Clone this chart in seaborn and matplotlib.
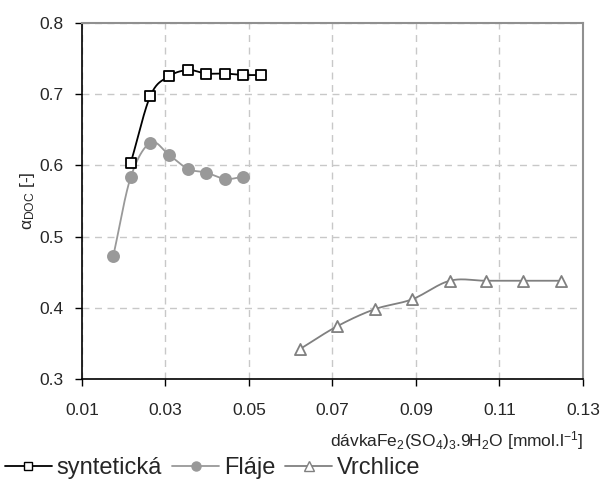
import numpy as np
import pandas as pd
import matplotlib
matplotlib.use("Agg")
import matplotlib.pyplot as plt
from matplotlib.lines import Line2D
import seaborn as sns

# Dose of Fe2(SO4)3.9H2O [mmol/l] and DOC removal efficiency for each water
dose_synt = [0.0217, 0.0264, 0.0308, 0.0354, 0.0397, 0.0443, 0.0486, 0.0529]
alpha_synt = [0.604, 0.698, 0.725, 0.734, 0.729, 0.729, 0.727, 0.727]

dose_flaje = [0.0175, 0.0217, 0.0264, 0.0308, 0.0354, 0.0397, 0.0443, 0.0486]
alpha_flaje = [0.473, 0.584, 0.632, 0.615, 0.595, 0.590, 0.581, 0.584]

dose_vrch = [0.0622, 0.0711, 0.0801, 0.0891, 0.0981, 0.1067, 0.1157, 0.1247]
alpha_vrch = [0.342, 0.374, 0.398, 0.412, 0.438, 0.438, 0.438, 0.438]

series_names = ["syntetická", "Fláje", "Vrchlice"]
x_ticks = [0.01, 0.03, 0.05, 0.07, 0.09, 0.11, 0.13]
y_ticks = [0.3, 0.4, 0.5, 0.6, 0.7, 0.8]

sns.set_theme(style="white")
plt.rcParams["font.family"] = ["Liberation Sans", "DejaVu Sans"]
plt.rcParams["mathtext.fontset"] = "custom"
plt.rcParams["mathtext.rm"] = "Liberation Sans"
plt.rcParams["mathtext.it"] = "Liberation Sans"

fig = plt.figure(figsize=(6.04, 4.84), dpi=100)
ax = fig.add_axes([82 / 604, 1 - 379 / 484, (583 - 82) / 604, (379 - 23) / 484])


def smooth(x, y, n=24):
    """Catmull-Rom curve through the points, like a smoothed line in a spreadsheet."""
    x = np.asarray(x, float)
    y = np.asarray(y, float)
    px = np.concatenate([[2 * x[0] - x[1]], x, [2 * x[-1] - x[-2]]])
    py = np.concatenate([[2 * y[0] - y[1]], y, [2 * y[-1] - y[-2]]])
    xs, ys = [], []
    t = np.linspace(0, 1, n)
    for i in range(1, len(px) - 2):
        for arr, out in ((px, xs), (py, ys)):
            p0, p1, p2, p3 = arr[i - 1], arr[i], arr[i + 1], arr[i + 2]
            out.extend(0.5 * ((2 * p1) + (-p0 + p2) * t
                              + (2 * p0 - 5 * p1 + 4 * p2 - p3) * t ** 2
                              + (-p0 + 3 * p1 - 3 * p2 + p3) * t ** 3))
    return np.array(xs), np.array(ys)


styles = {
    "syntetická": dict(color="#000000", marker="s", face="white", size=7, leg=6),
    "Fláje": dict(color="#999999", marker="o", face="#999999", size=8, leg=6.5),
    "Vrchlice": dict(color="#808080", marker="^", face="white", size=8, leg=6.5),
}

frames = [
    pd.DataFrame({"dose": dose_synt, "alpha": alpha_synt, "series": "syntetická"}),
    pd.DataFrame({"dose": dose_flaje, "alpha": alpha_flaje, "series": "Fláje"}),
    pd.DataFrame({"dose": dose_vrch, "alpha": alpha_vrch, "series": "Vrchlice"}),
]
df = pd.concat(frames, ignore_index=True)

for name in series_names:
    sub = df[df["series"] == name]
    st = styles[name]
    sx, sy = smooth(sub["dose"], sub["alpha"])
    ax.plot(sx, sy, color=st["color"], lw=1.3, zorder=2)
    sns.scatterplot(data=sub, x="dose", y="alpha", ax=ax, marker=st["marker"],
                    s=st["size"] ** 2, facecolor=st["face"],
                    edgecolor=st["color"], linewidth=1.3, zorder=3, legend=False)

ax.set_xlim(0.01, 0.13)
ax.set_ylim(0.3, 0.8)
ax.set_xticks(x_ticks)
ax.set_yticks(y_ticks)
ax.set_xticklabels([f"{v:.2f}" for v in x_ticks], fontsize=12.5)
ax.set_yticklabels([f"{v:.1f}" for v in y_ticks], fontsize=12.5)
ax.tick_params(axis="both", direction="out", length=5, width=1, color="black",
               bottom=True, left=True)
ax.tick_params(axis="x", pad=12)
ax.tick_params(axis="y", pad=8)
ax.grid(True, color="#c8c8c8", linestyle=(0, (5, 4)), linewidth=1)
ax.set_axisbelow(True)
for side in ("left", "bottom"):
    ax.spines[side].set_color("black")
    ax.spines[side].set_linewidth(1.2)
for side in ("top", "right"):
    ax.spines[side].set_color("#909090")
    ax.spines[side].set_linewidth(1.5)

ax.set_xlabel(r"dávkaFe$_2$(SO$_4$)$_3$.9H$_2$O [mmol.l$^{-1}$]", fontsize=12.5,
              loc="right", labelpad=8)
ax.set_ylabel(r"$\alpha_{\mathrm{DOC}}$ [-]", fontsize=12.5, labelpad=2)

handles = [
    Line2D([], [], color=styles[n]["color"], lw=1.3, marker=styles[n]["marker"],
           markersize=styles[n]["leg"], markerfacecolor=styles[n]["face"],
           markeredgecolor=styles[n]["color"])
    for n in series_names
]
fig.legend(handles, series_names, loc="center left",
           bbox_to_anchor=(0.0, 1 - 468 / 484),
           ncol=3, frameon=False, fontsize=17, handlelength=2.0,
           handletextpad=0.2, columnspacing=0.42, borderaxespad=0.0,
           borderpad=0.2)

fig.savefig("out.png", dpi=100)
